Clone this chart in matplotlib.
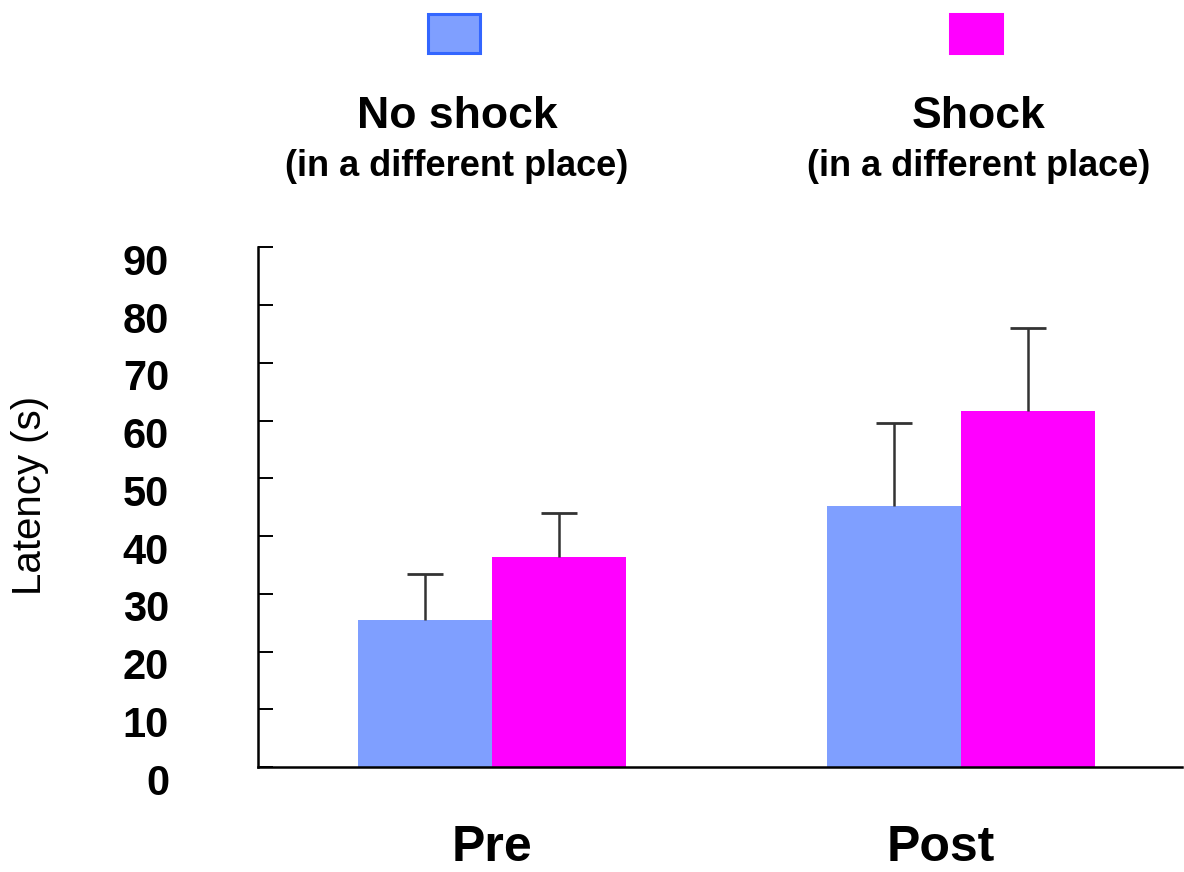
import matplotlib.pyplot as plt
import numpy as np
from matplotlib.patches import Rectangle
from matplotlib.transforms import ScaledTranslation

plt.rcParams['font.family'] = ['Liberation Sans', 'DejaVu Sans']

phases = ['Pre', 'Post']
groups = ['No shock', 'Shock']
subtitle = '(in a different place)'
no_shock_mean = [25.5, 45.3]
no_shock_err = [7.9, 14.3]
shock_mean = [36.4, 61.6]
shock_err = [7.6, 14.5]
yticks = [0, 10, 20, 30, 40, 50, 60, 70, 80, 90]

blue = '#7f9fff'
blue_edge = '#3366ff'
magenta = '#ff00ff'
err_col = '#333333'

fig = plt.figure(figsize=(11.84, 8.72), dpi=100)
ax = fig.add_axes([258/1184, 105/872, 924/1184, 519.5/872])

x = np.arange(len(phases))
w = 0.2857
for xs, mean, err, col in [(x - w/2, no_shock_mean, no_shock_err, blue),
                           (x + w/2, shock_mean, shock_err, magenta)]:
    ax.bar(xs, mean, w, color=col)
    # upward error only: drop the cap at the bar top
    _, caps, _ = ax.errorbar(xs, mean, yerr=[np.zeros(len(err)), err], fmt='none',
                             ecolor=err_col, elinewidth=1.8, capsize=13,
                             capthick=2.0)
    caps[0].set_visible(False)

ax.set_xlim(-0.499, 1.471)
ax.set_ylim(0, 90)
ax.spines['top'].set_visible(False)
ax.spines['right'].set_visible(False)
for s in ('left', 'bottom'):
    ax.spines[s].set_linewidth(1.8)

ax.set_yticks(yticks)
ax.set_yticklabels([str(t) for t in yticks], fontsize=30, fontweight='bold')
ax.tick_params(axis='y', direction='in', length=11, width=1.4, pad=64)
# labels sit a little below their ticks
shift = ScaledTranslation(0, -0.12, fig.dpi_scale_trans)
for lab in ax.get_yticklabels():
    lab.set_transform(lab.get_transform() + shift)

ax.set_xticks(x)
ax.set_xticklabels(phases, fontsize=36, fontweight='bold')
ax.tick_params(axis='x', length=0, pad=42)
post_lab = ax.get_xticklabels()[1]
post_lab.set_transform(post_lab.get_transform()
                       + ScaledTranslation(-0.2, 0, fig.dpi_scale_trans))

fig.text(30/1184, 1 - 495/872, 'Latency (s)', rotation=90, fontsize=29,
         ha='center', va='center')

# legend squares with group titles underneath
for cx, name, fc, ec in [(454, groups[0], blue, blue_edge),
                         (976, groups[1], magenta, magenta)]:
    fig.patches.append(Rectangle(((cx - 26)/1184, 1 - 53/872), 52/1184, 39/872,
                                 facecolor=fc, edgecolor=ec, linewidth=2.2,
                                 transform=fig.transFigure))
    fig.text((cx + 3)/1184, 1 - 116/872, name, fontsize=32, fontweight='bold',
             ha='center', va='center')
    fig.text((cx + 3)/1184, 1 - 166/872, subtitle, fontsize=26,
             fontweight='bold', ha='center', va='center')

fig.savefig('out.png', dpi=100)
